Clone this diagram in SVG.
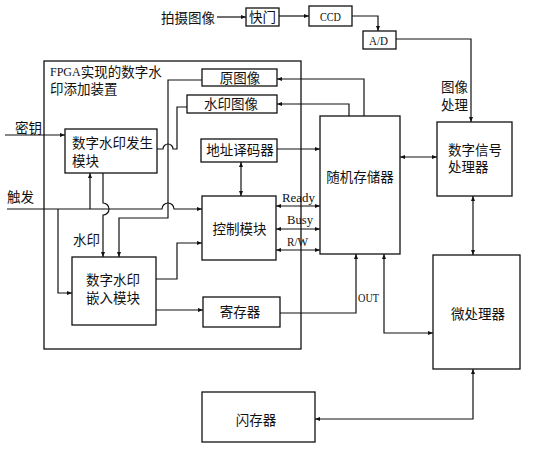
<svg xmlns="http://www.w3.org/2000/svg" width="536" height="450" viewBox="0 0 536 450">
<defs>
<marker id="a" viewBox="0 0 10 10" refX="10" refY="5" markerWidth="7" markerHeight="5" orient="auto-start-reverse" markerUnits="userSpaceOnUse"><path d="M0,1 L10,5 L0,9 z" fill="#111"/></marker>
</defs>
<style>
rect{fill:#fff;stroke:#111;stroke-width:1.3}
.c path{fill:none;stroke:#111;stroke-width:1.2}
text{font-family:"Liberation Serif","Noto Sans CJK SC",serif;font-size:13.5px;fill:#111;dominant-baseline:central}
.m{text-anchor:middle}
.e{font-size:13.5px}
</style>
<rect width="536" height="450" style="fill:#fff;stroke:none"/>
<g id="fpga"><rect x="44" y="61" width="257" height="288"/><text x="50" y="72"><tspan font-size="12">FPGA</tspan>实现的数字水</text><text x="50" y="89">印添加装置</text></g>
<g class="c" id="connectors">
<path d="M217,17 H246" marker-end="url(#a)"/>
<path d="M279,16 H309" marker-end="url(#a)"/>
<path d="M352,16 H378 V31" marker-end="url(#a)"/>
<path d="M396,39 H471 V122" marker-end="url(#a)"/>
<path d="M400,157 H437" marker-start="url(#a)" marker-end="url(#a)"/>
<path d="M473,196 V255" marker-start="url(#a)" marker-end="url(#a)"/>
<path d="M473,369 V419 H315" marker-start="url(#a)" marker-end="url(#a)"/>
<path d="M364,116 V79 H277" marker-end="url(#a)"/>
<path d="M349,116 V104 H277" marker-end="url(#a)"/>
<path d="M277,149 H320" marker-end="url(#a)"/>
<path d="M241,162 V196" marker-start="url(#a)" marker-end="url(#a)"/>
<path d="M276,206 H320" marker-start="url(#a)" marker-end="url(#a)"/>
<path d="M276,229 H320" marker-start="url(#a)" marker-end="url(#a)"/>
<path d="M276,250 H320" marker-start="url(#a)" marker-end="url(#a)"/>
<path d="M280,313 H356 V254" marker-end="url(#a)"/>
<path d="M384,254 V333 H433" marker-start="url(#a)" marker-end="url(#a)"/>
<path d="M5,135 H65" marker-end="url(#a)"/>
<path d="M7,209 H162 A6,6 0 0 1 174,209 H202" marker-end="url(#a)"/>
<path d="M90,209 V173" marker-end="url(#a)"/>
<path d="M58,209 V293 H72" marker-end="url(#a)"/>
<path d="M103,173 V203 A6,6 0 0 1 103,215 V257" marker-end="url(#a)"/>
<path d="M157,149 H163 A5,5 0 0 1 173,149 H177 V107 H187"/>
<path d="M202,80 H168 V218 H119 V257" marker-end="url(#a)"/>
<path d="M156,279 H177 V243 H202" marker-end="url(#a)"/>
<path d="M156,310 H203" marker-end="url(#a)"/>
</g>
<g id="labels">
<text x="161" y="18">拍摄图像</text>
<text x="441" y="87">图像</text>
<text x="441" y="105">处理</text>
<text x="15" y="128">密钥</text>
<text x="7" y="197">触发</text>
<text x="73" y="240">水印</text>
<text class="e" x="282" y="197" textLength="33" lengthAdjust="spacingAndGlyphs">Ready</text>
<text class="e" x="287" y="219" textLength="26" lengthAdjust="spacingAndGlyphs">Busy</text>
<text class="e" x="287" y="241" textLength="21" lengthAdjust="spacingAndGlyphs">R/W</text>
<text class="e" x="358" y="297" textLength="21" lengthAdjust="spacingAndGlyphs">OUT</text>
</g>
<g id="shutter"><rect x="246" y="8" width="33" height="18"/><text class="m" x="262.5" y="17">快门</text></g>
<g id="ccd"><rect x="309" y="6" width="43" height="20"/><text class="e" x="320" y="16" textLength="21" lengthAdjust="spacingAndGlyphs">CCD</text></g>
<g id="ad"><rect x="363" y="31" width="33" height="18"/><text class="e" x="369" y="40" textLength="19" lengthAdjust="spacingAndGlyphs">A/D</text></g>
<g id="dsp"><rect x="437" y="122" width="75" height="74"/><text x="448" y="150">数字信号</text><text x="448" y="167">处理器</text></g>
<g id="ram"><rect x="320" y="116" width="80" height="138"/><text class="m" x="360" y="177">随机存储器</text></g>
<g id="mpu"><rect x="433" y="255" width="87" height="114"/><text class="m" x="478" y="314">微处理器</text></g>
<g id="flash"><rect x="202" y="392" width="113" height="50"/><text class="m" x="256" y="420">闪存器</text></g>
<g id="orig"><rect x="202" y="69" width="75" height="17"/><text class="m" x="240" y="78">原图像</text></g>
<g id="wmimg"><rect x="187" y="95" width="90" height="18"/><text class="m" x="231" y="104">水印图像</text></g>
<g id="addr"><rect x="201" y="139" width="76" height="23"/><text class="m" x="240" y="150">地址译码器</text></g>
<g id="ctrl"><rect x="202" y="196" width="74" height="64"/><text class="m" x="239.5" y="229">控制模块</text></g>
<g id="reg"><rect x="203" y="297" width="77" height="30"/><text class="m" x="240" y="312">寄存器</text></g>
<g id="gen"><rect x="65" y="129" width="92" height="44"/><text x="72" y="143">数字水印发生</text><text x="72" y="161">模块</text></g>
<g id="embed"><rect x="72" y="257" width="84" height="68"/><text x="86" y="280">数字水印</text><text x="86" y="298">嵌入模块</text></g>
</svg>
